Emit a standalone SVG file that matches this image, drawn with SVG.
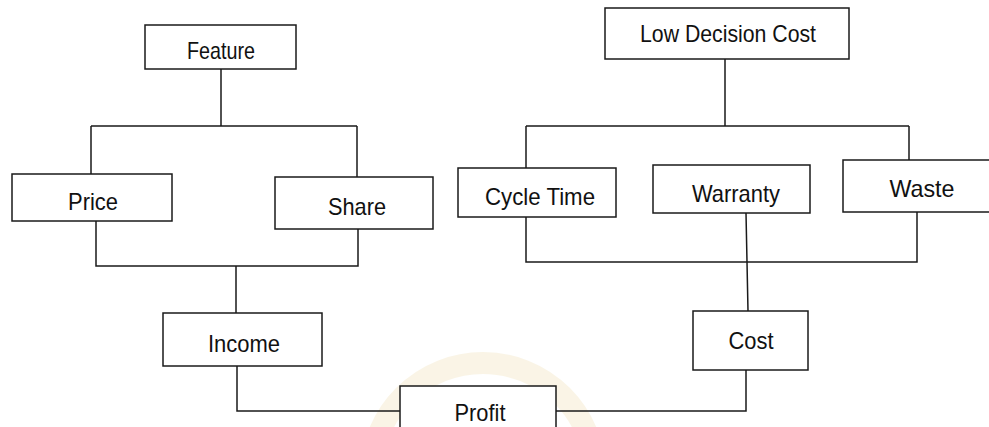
<svg xmlns="http://www.w3.org/2000/svg" width="989" height="427" viewBox="0 0 989 427">
  <style>
    .box { fill: #ffffff; stroke: #1a1a1a; stroke-width: 1.5; }
    .lbl { font-family: "Liberation Sans", Arial, sans-serif; font-size: 24px; fill: #111111; text-anchor: middle; }
    .wire { fill: none; stroke: #1a1a1a; stroke-width: 1.5; }
  </style>
  <rect width="989" height="427" fill="#ffffff"/>

  <!-- faint seal behind the bottom of the chart -->
  <g id="seal" opacity="0.4">
    <circle cx="483" cy="475" r="112" fill="none" stroke="#f3e6c2" stroke-width="22"/>
    <circle cx="483" cy="475" r="86" fill="#e8e8f8"/>
  </g>

  <g id="connectors" class="wire">
    <!-- Feature to Price / Share -->
    <path d="M221 69 V126 M91 126 H357 M91 126 V174 M357 126 V177"/>
    <!-- Price / Share to Income -->
    <path d="M96 221 V266 H358 V229 M236 266 V313"/>
    <!-- Income to Profit -->
    <path d="M237 366 V411 H400"/>
    <!-- Low Decision Cost to Cycle Time / Waste -->
    <path d="M725 59 V126 M526 126 H909 M526 126 V168 M909 126 V160"/>
    <!-- Cycle Time / Warranty / Waste to Cost -->
    <path d="M526 217 V262 H917 V212 M746 213 L748 311"/>
    <!-- Cost to Profit -->
    <path d="M746 370 V411 H556"/>
  </g>

  <g id="feature">
    <rect class="box" x="145" y="25" width="151" height="44"/>
    <text class="lbl" x="221" y="59" font-size="22" textLength="68" lengthAdjust="spacingAndGlyphs">Feature</text>
  </g>
  <g id="low-decision-cost">
    <rect class="box" x="605" y="8" width="244" height="51"/>
    <text class="lbl" x="728" y="42" font-size="20" textLength="176" lengthAdjust="spacingAndGlyphs">Low Decision Cost</text>
  </g>
  <g id="price">
    <rect class="box" x="12" y="174" width="160" height="47"/>
    <text class="lbl" x="93" y="210" textLength="50" lengthAdjust="spacingAndGlyphs">Price</text>
  </g>
  <g id="share">
    <rect class="box" x="275" y="177" width="158" height="52"/>
    <text class="lbl" x="357" y="215" textLength="58" lengthAdjust="spacingAndGlyphs">Share</text>
  </g>
  <g id="cycle-time">
    <rect class="box" x="458" y="168" width="158" height="49"/>
    <text class="lbl" x="540" y="205" textLength="110" lengthAdjust="spacingAndGlyphs">Cycle Time</text>
  </g>
  <g id="warranty">
    <rect class="box" x="653" y="165" width="157" height="48"/>
    <text class="lbl" x="736" y="202" textLength="88" lengthAdjust="spacingAndGlyphs">Warranty</text>
  </g>
  <g id="waste">
    <rect class="box" x="843" y="160" width="152" height="52"/>
    <text class="lbl" x="922" y="197" textLength="65" lengthAdjust="spacingAndGlyphs">Waste</text>
  </g>
  <g id="income">
    <rect class="box" x="163" y="313" width="159" height="53"/>
    <text class="lbl" x="244" y="352" textLength="72" lengthAdjust="spacingAndGlyphs">Income</text>
  </g>
  <g id="cost">
    <rect class="box" x="693" y="311" width="115" height="59"/>
    <text class="lbl" x="751" y="349" textLength="45" lengthAdjust="spacingAndGlyphs">Cost</text>
  </g>
  <g id="profit">
    <rect class="box" x="400" y="386" width="156" height="60"/>
    <text class="lbl" x="480" y="421" textLength="51" lengthAdjust="spacingAndGlyphs">Profit</text>
  </g>
</svg>
